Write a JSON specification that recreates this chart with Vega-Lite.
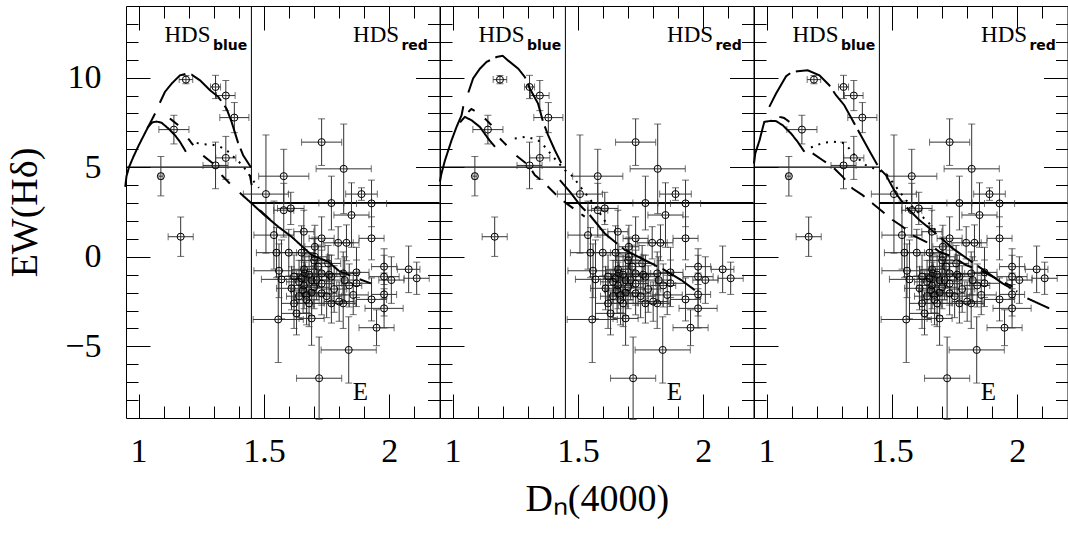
{
  "$schema": "https://vega.github.io/schema/vega-lite/v6.json",
  "background": "white",
  "padding": {"left": 6, "top": 5, "right": 1, "bottom": 5},
  "spacing": 0,
  "bounds": "flush",
  "datasets": {
    "pts": [
      {"x": 1.189, "y": 9.89, "xe": 0.027, "ye": 0.23},
      {"x": 1.307, "y": 9.48, "xe": 0.02, "ye": 0.65},
      {"x": 1.348, "y": 9.0, "xe": 0.037, "ye": 0.84},
      {"x": 1.382, "y": 7.77, "xe": 0.058, "ye": 0.84},
      {"x": 1.141, "y": 7.1, "xe": 0.06, "ye": 0.8},
      {"x": 1.089, "y": 4.5, "xe": 0.008, "ye": 1.1},
      {"x": 1.307, "y": 5.1, "xe": 0.05, "ye": 1.3},
      {"x": 1.348, "y": 5.52, "xe": 0.04, "ye": 1.2},
      {"x": 1.168, "y": 1.12, "xe": 0.05, "ye": 1.1},
      {"x": 1.73, "y": 6.4, "xe": 0.08, "ye": 1.3},
      {"x": 1.818, "y": 4.91, "xe": 0.11, "ye": 2.5},
      {"x": 1.579, "y": 4.5, "xe": 0.1, "ye": 1.5},
      {"x": 1.508, "y": 3.5, "xe": 0.09, "ye": 3.3},
      {"x": 1.889, "y": 3.5, "xe": 0.063, "ye": 0.35},
      {"x": 1.929, "y": 2.98, "xe": 0.06, "ye": 1.3},
      {"x": 1.769, "y": 3.0, "xe": 0.05, "ye": 1.5},
      {"x": 1.849, "y": 2.33, "xe": 0.07, "ye": 1.8},
      {"x": 1.579, "y": 2.6, "xe": 0.04, "ye": 1.5},
      {"x": 1.607, "y": 2.7, "xe": 0.053, "ye": 0.9},
      {"x": 1.54, "y": 1.21, "xe": 0.08, "ye": 1.9},
      {"x": 1.659, "y": 1.4, "xe": 0.04, "ye": 1.2},
      {"x": 1.73, "y": 1.03, "xe": 0.05, "ye": 1.2},
      {"x": 1.796, "y": 0.78, "xe": 0.06, "ye": 0.9},
      {"x": 1.829, "y": 0.78, "xe": 0.05, "ye": 1.0},
      {"x": 1.929, "y": 1.03, "xe": 0.05, "ye": 1.2},
      {"x": 1.55, "y": 0.23, "xe": 0.08, "ye": 1.4},
      {"x": 1.599, "y": 0.23, "xe": 0.05, "ye": 1.3},
      {"x": 1.65, "y": 0.23, "xe": 0.05, "ye": 1.5},
      {"x": 1.703, "y": 0.56, "xe": 0.04, "ye": 1.2},
      {"x": 1.703, "y": 0.0, "xe": 0.05, "ye": 1.1},
      {"x": 1.56, "y": -0.78, "xe": 0.1, "ye": 1.5},
      {"x": 1.57, "y": -1.26, "xe": 0.08, "ye": 2.2},
      {"x": 1.61, "y": -1.76, "xe": 0.06, "ye": 1.2},
      {"x": 1.663, "y": -0.93, "xe": 0.05, "ye": 1.1},
      {"x": 1.69, "y": -1.3, "xe": 0.06, "ye": 1.5},
      {"x": 1.656, "y": -1.86, "xe": 0.05, "ye": 1.3},
      {"x": 1.67, "y": -2.13, "xe": 0.05, "ye": 1.0},
      {"x": 1.716, "y": -0.55, "xe": 0.05, "ye": 1.2},
      {"x": 1.756, "y": -0.37, "xe": 0.05, "ye": 1.0},
      {"x": 1.73, "y": -0.93, "xe": 0.06, "ye": 1.3},
      {"x": 1.769, "y": -1.11, "xe": 0.05, "ye": 1.2},
      {"x": 1.816, "y": -0.93, "xe": 0.06, "ye": 1.2},
      {"x": 1.869, "y": -0.87, "xe": 0.05, "ye": 1.4},
      {"x": 1.822, "y": -1.3, "xe": 0.05, "ye": 1.3},
      {"x": 1.869, "y": -1.48, "xe": 0.06, "ye": 1.3},
      {"x": 1.73, "y": -2.04, "xe": 0.06, "ye": 1.2},
      {"x": 1.769, "y": -2.6, "xe": 0.07, "ye": 1.1},
      {"x": 1.816, "y": -2.6, "xe": 0.05, "ye": 1.4},
      {"x": 1.856, "y": -2.13, "xe": 0.06, "ye": 1.1},
      {"x": 1.929, "y": -2.38, "xe": 0.06, "ye": 1.2},
      {"x": 1.979, "y": -0.55, "xe": 0.05, "ye": 1.0},
      {"x": 1.979, "y": -1.11, "xe": 0.06, "ye": 1.2},
      {"x": 2.008, "y": -1.3, "xe": 0.05, "ye": 1.3},
      {"x": 2.077, "y": -0.7, "xe": 0.045, "ye": 1.3},
      {"x": 2.109, "y": -1.2, "xe": 0.05, "ye": 0.9},
      {"x": 1.979, "y": -2.1, "xe": 0.05, "ye": 1.2},
      {"x": 1.979, "y": -2.88, "xe": 0.076, "ye": 1.1},
      {"x": 1.63, "y": -3.16, "xe": 0.06, "ye": 1.2},
      {"x": 1.557, "y": -3.5, "xe": 0.1, "ye": 2.4},
      {"x": 1.69, "y": -3.44, "xe": 0.05, "ye": 1.5},
      {"x": 1.838, "y": -5.2, "xe": 0.11, "ye": 1.85},
      {"x": 1.72, "y": -6.78, "xe": 0.09, "ye": 2.3},
      {"x": 1.949, "y": -3.96, "xe": 0.07, "ye": 1.0},
      {"x": 1.64, "y": -1.4, "xe": 0.05, "ye": 1.2},
      {"x": 1.66, "y": -1.6, "xe": 0.06, "ye": 1.3},
      {"x": 1.68, "y": -1.0, "xe": 0.05, "ye": 1.1},
      {"x": 1.67, "y": -2.4, "xe": 0.05, "ye": 1.4},
      {"x": 1.7, "y": -1.7, "xe": 0.06, "ye": 1.2},
      {"x": 1.65, "y": -1.2, "xe": 0.05, "ye": 1.0},
      {"x": 1.69, "y": -2.0, "xe": 0.05, "ye": 1.3},
      {"x": 1.62, "y": -1.1, "xe": 0.06, "ye": 1.2},
      {"x": 1.71, "y": -1.3, "xe": 0.05, "ye": 1.1},
      {"x": 1.64, "y": -2.2, "xe": 0.05, "ye": 1.2},
      {"x": 1.68, "y": -2.6, "xe": 0.06, "ye": 1.3},
      {"x": 1.73, "y": -1.5, "xe": 0.05, "ye": 1.2},
      {"x": 1.66, "y": -0.7, "xe": 0.05, "ye": 1.1},
      {"x": 1.75, "y": -2.2, "xe": 0.06, "ye": 1.2},
      {"x": 1.78, "y": -1.8, "xe": 0.05, "ye": 1.3},
      {"x": 1.8, "y": -2.5, "xe": 0.06, "ye": 1.1},
      {"x": 1.84, "y": -1.6, "xe": 0.05, "ye": 1.2},
      {"x": 1.62, "y": -2.6, "xe": 0.05, "ye": 1.4},
      {"x": 1.7, "y": -0.2, "xe": 0.05, "ye": 1.2},
      {"x": 1.76, "y": -1.0, "xe": 0.06, "ye": 1.1}
    ],
    "cuts": [
      {"side": "blue", "x": 0.95, "x2": 1.45, "y": 5},
      {"side": "red", "x": 1.45, "x2": 2.2, "y": 3}
    ],
    "split": [{"x": 1.45}],
    "hds": [
      {"t": "HDS", "sub": "blue", "x": 1.287, "y": 11.99, "xs": 1.297, "ys": 11.57},
      {"t": "HDS", "sub": "red", "x": 2.039, "y": 11.99, "xs": 2.048, "ys": 11.57}
    ],
    "etag": [{"t": "E", "x": 1.885, "y": -7.99}],
    "curves": [
      {"p": 1, "s": "1a", "st": "long", "x": 1.085, "y": 8.6},
      {"p": 1, "s": "1a", "st": "long", "x": 1.105, "y": 9.2},
      {"p": 1, "s": "1a", "st": "long", "x": 1.132, "y": 9.67},
      {"p": 1, "s": "1a", "st": "long", "x": 1.165, "y": 10.13},
      {"p": 1, "s": "1a", "st": "long", "x": 1.19, "y": 10.22},
      {"p": 1, "s": "1a", "st": "long", "x": 1.212, "y": 10.17},
      {"p": 1, "s": "1a", "st": "long", "x": 1.245, "y": 9.85},
      {"p": 1, "s": "1a", "st": "long", "x": 1.285, "y": 9.3},
      {"p": 1, "s": "1a", "st": "long", "x": 1.318, "y": 8.93},
      {"p": 1, "s": "1a", "st": "long", "x": 1.351, "y": 8.27},
      {"p": 1, "s": "1a", "st": "long", "x": 1.371, "y": 7.53},
      {"p": 1, "s": "1a", "st": "long", "x": 1.397, "y": 6.36},
      {"p": 1, "s": "1a", "st": "long", "x": 1.417, "y": 5.67},
      {"p": 1, "s": "1a", "st": "long", "x": 1.448, "y": 5.0},
      {"p": 1, "s": "1b", "st": "solid", "x": 0.947, "y": 3.9},
      {"p": 1, "s": "1b", "st": "solid", "x": 0.952, "y": 4.5},
      {"p": 1, "s": "1b", "st": "solid", "x": 0.962, "y": 5.0},
      {"p": 1, "s": "1b", "st": "solid", "x": 0.98, "y": 5.6},
      {"p": 1, "s": "1b", "st": "solid", "x": 1.0, "y": 6.2},
      {"p": 1, "s": "1b", "st": "solid", "x": 1.02, "y": 6.75},
      {"p": 1, "s": "1b", "st": "solid", "x": 1.04, "y": 7.3},
      {"p": 1, "s": "1b", "st": "solid", "x": 1.055, "y": 7.7},
      {"p": 1, "s": "1b", "st": "solid", "x": 1.066, "y": 8.0},
      {"p": 1, "s": "1c", "st": "solid", "x": 1.035, "y": 7.2},
      {"p": 1, "s": "1c", "st": "solid", "x": 1.055, "y": 7.5},
      {"p": 1, "s": "1c", "st": "solid", "x": 1.072, "y": 7.55},
      {"p": 1, "s": "1c", "st": "solid", "x": 1.092, "y": 7.48},
      {"p": 1, "s": "1c", "st": "solid", "x": 1.119, "y": 7.16},
      {"p": 1, "s": "1c", "st": "solid", "x": 1.145, "y": 6.79},
      {"p": 1, "s": "1c", "st": "solid", "x": 1.165, "y": 6.42},
      {"p": 1, "s": "1c", "st": "solid", "x": 1.189, "y": 5.86},
      {"p": 1, "s": "1d", "st": "solid", "x": 1.125, "y": 7.72},
      {"p": 1, "s": "1d", "st": "solid", "x": 1.158, "y": 7.35},
      {"p": 1, "s": "1e", "st": "solid", "x": 1.198, "y": 6.6},
      {"p": 1, "s": "1e", "st": "solid", "x": 1.218, "y": 6.23},
      {"p": 1, "s": "1f", "st": "dot", "x": 1.232, "y": 6.35},
      {"p": 1, "s": "1f", "st": "dot", "x": 1.26, "y": 6.28},
      {"p": 1, "s": "1f", "st": "dot", "x": 1.295, "y": 6.25},
      {"p": 1, "s": "1f", "st": "dot", "x": 1.325, "y": 6.15},
      {"p": 1, "s": "1f", "st": "dot", "x": 1.355, "y": 5.9},
      {"p": 1, "s": "1f", "st": "dot", "x": 1.385, "y": 5.5},
      {"p": 1, "s": "1f", "st": "dot", "x": 1.415, "y": 5.1},
      {"p": 1, "s": "1f", "st": "dot", "x": 1.44, "y": 4.6},
      {"p": 1, "s": "1f", "st": "dot", "x": 1.46, "y": 4.2},
      {"p": 1, "s": "1f", "st": "dot", "x": 1.48, "y": 3.85},
      {"p": 1, "s": "1g", "st": "solid", "x": 1.258, "y": 5.64},
      {"p": 1, "s": "1g", "st": "solid", "x": 1.298, "y": 5.2},
      {"p": 1, "s": "1h", "st": "solid", "x": 1.331, "y": 4.56},
      {"p": 1, "s": "1h", "st": "solid", "x": 1.364, "y": 4.09},
      {"p": 1, "s": "1i", "st": "solid", "x": 1.404, "y": 3.57},
      {"p": 1, "s": "1i", "st": "solid", "x": 1.451, "y": 2.98},
      {"p": 1, "s": "1i", "st": "solid", "x": 1.5, "y": 2.35},
      {"p": 1, "s": "1i", "st": "solid", "x": 1.557, "y": 1.68},
      {"p": 1, "s": "1i", "st": "solid", "x": 1.61, "y": 1.12},
      {"p": 1, "s": "1i", "st": "solid", "x": 1.69, "y": 0.1},
      {"p": 1, "s": "1i", "st": "solid", "x": 1.756, "y": -0.27},
      {"p": 1, "s": "1i", "st": "solid", "x": 1.8, "y": -0.8},
      {"p": 1, "s": "1j", "st": "solid", "x": 1.484, "y": 2.6},
      {"p": 1, "s": "1j", "st": "solid", "x": 1.524, "y": 2.08},
      {"p": 1, "s": "1k", "st": "dash", "x": 1.8, "y": -0.8},
      {"p": 1, "s": "1k", "st": "dash", "x": 1.87, "y": -1.2},
      {"p": 1, "s": "1k", "st": "dash", "x": 1.95, "y": -1.6},
      {"p": 1, "s": "1l", "st": "solid", "x": 1.444, "y": 4.56},
      {"p": 1, "s": "1l", "st": "solid", "x": 1.451, "y": 4.0},
      {"p": 2, "s": "2a", "st": "long", "x": 1.063, "y": 9.17},
      {"p": 2, "s": "2a", "st": "long", "x": 1.082, "y": 9.95},
      {"p": 2, "s": "2a", "st": "long", "x": 1.109, "y": 10.5},
      {"p": 2, "s": "2a", "st": "long", "x": 1.136, "y": 10.88},
      {"p": 2, "s": "2a", "st": "long", "x": 1.175, "y": 11.15},
      {"p": 2, "s": "2a", "st": "long", "x": 1.2, "y": 11.22},
      {"p": 2, "s": "2a", "st": "long", "x": 1.222, "y": 10.95},
      {"p": 2, "s": "2a", "st": "long", "x": 1.262, "y": 10.5},
      {"p": 2, "s": "2a", "st": "long", "x": 1.288, "y": 10.04},
      {"p": 2, "s": "2a", "st": "long", "x": 1.308, "y": 9.39},
      {"p": 2, "s": "2a", "st": "long", "x": 1.341, "y": 8.55},
      {"p": 2, "s": "2a", "st": "long", "x": 1.361, "y": 7.53},
      {"p": 2, "s": "2a", "st": "long", "x": 1.381, "y": 6.79},
      {"p": 2, "s": "2a", "st": "long", "x": 1.408, "y": 5.95},
      {"p": 2, "s": "2a", "st": "long", "x": 1.441, "y": 5.02},
      {"p": 2, "s": "2b", "st": "solid", "x": 0.95, "y": 4.2},
      {"p": 2, "s": "2b", "st": "solid", "x": 0.955, "y": 4.6},
      {"p": 2, "s": "2b", "st": "solid", "x": 0.97, "y": 5.39},
      {"p": 2, "s": "2b", "st": "solid", "x": 0.996, "y": 6.5},
      {"p": 2, "s": "2b", "st": "solid", "x": 1.016, "y": 7.25},
      {"p": 2, "s": "2b", "st": "solid", "x": 1.036, "y": 7.9},
      {"p": 2, "s": "2b", "st": "solid", "x": 1.043, "y": 8.4},
      {"p": 2, "s": "2c", "st": "solid", "x": 1.03, "y": 7.5},
      {"p": 2, "s": "2c", "st": "solid", "x": 1.049, "y": 7.81},
      {"p": 2, "s": "2c", "st": "solid", "x": 1.076, "y": 7.62},
      {"p": 2, "s": "2c", "st": "solid", "x": 1.109, "y": 7.25},
      {"p": 2, "s": "2c", "st": "solid", "x": 1.142, "y": 6.6},
      {"p": 2, "s": "2c", "st": "solid", "x": 1.169, "y": 6.14},
      {"p": 2, "s": "2d", "st": "solid", "x": 1.063, "y": 8.09},
      {"p": 2, "s": "2d", "st": "solid", "x": 1.075, "y": 8.25},
      {"p": 2, "s": "2d", "st": "solid", "x": 1.088, "y": 8.15},
      {"p": 2, "s": "2e", "st": "solid", "x": 1.129, "y": 7.72},
      {"p": 2, "s": "2e", "st": "solid", "x": 1.155, "y": 7.35},
      {"p": 2, "s": "2f", "st": "solid", "x": 1.189, "y": 6.6},
      {"p": 2, "s": "2f", "st": "solid", "x": 1.215, "y": 6.23},
      {"p": 2, "s": "2g", "st": "dot", "x": 1.248, "y": 6.6},
      {"p": 2, "s": "2g", "st": "dot", "x": 1.295, "y": 6.7},
      {"p": 2, "s": "2g", "st": "dot", "x": 1.341, "y": 6.51},
      {"p": 2, "s": "2g", "st": "dot", "x": 1.368, "y": 6.14},
      {"p": 2, "s": "2g", "st": "dot", "x": 1.401, "y": 5.58},
      {"p": 2, "s": "2g", "st": "dot", "x": 1.448, "y": 4.84},
      {"p": 2, "s": "2g", "st": "dot", "x": 1.481, "y": 4.46},
      {"p": 2, "s": "2g", "st": "dot", "x": 1.51, "y": 3.9},
      {"p": 2, "s": "2g", "st": "dot", "x": 1.541, "y": 3.35},
      {"p": 2, "s": "2g", "st": "dot", "x": 1.58, "y": 2.6},
      {"p": 2, "s": "2g", "st": "dot", "x": 1.614, "y": 1.86},
      {"p": 2, "s": "2h", "st": "dash", "x": 1.255, "y": 5.64},
      {"p": 2, "s": "2h", "st": "dash", "x": 1.302, "y": 5.12},
      {"p": 2, "s": "2h", "st": "dash", "x": 1.328, "y": 4.56},
      {"p": 2, "s": "2h", "st": "dash", "x": 1.368, "y": 4.09},
      {"p": 2, "s": "2h", "st": "dash", "x": 1.408, "y": 3.53},
      {"p": 2, "s": "2h", "st": "dash", "x": 1.454, "y": 2.98},
      {"p": 2, "s": "2h", "st": "dash", "x": 1.527, "y": 2.24},
      {"p": 2, "s": "2i", "st": "long", "x": 1.428, "y": 4.28},
      {"p": 2, "s": "2i", "st": "long", "x": 1.47, "y": 3.6},
      {"p": 2, "s": "2i", "st": "long", "x": 1.514, "y": 2.79},
      {"p": 2, "s": "2i", "st": "long", "x": 1.547, "y": 2.33},
      {"p": 2, "s": "2i", "st": "long", "x": 1.607, "y": 1.3},
      {"p": 2, "s": "2i", "st": "long", "x": 1.687, "y": 0.38},
      {"p": 2, "s": "2i", "st": "long", "x": 1.766, "y": -0.18},
      {"p": 2, "s": "2i", "st": "long", "x": 1.846, "y": -0.74},
      {"p": 2, "s": "2i", "st": "long", "x": 1.912, "y": -1.3},
      {"p": 2, "s": "2i", "st": "long", "x": 1.966, "y": -1.86},
      {"p": 3, "s": "3a", "st": "long", "x": 1.011, "y": 8.37},
      {"p": 3, "s": "3a", "st": "long", "x": 1.038, "y": 9.11},
      {"p": 3, "s": "3a", "st": "long", "x": 1.078, "y": 10.08},
      {"p": 3, "s": "3a", "st": "long", "x": 1.1, "y": 10.3},
      {"p": 3, "s": "3a", "st": "long", "x": 1.124, "y": 10.36},
      {"p": 3, "s": "3a", "st": "long", "x": 1.164, "y": 10.41},
      {"p": 3, "s": "3a", "st": "long", "x": 1.211, "y": 10.13},
      {"p": 3, "s": "3a", "st": "long", "x": 1.25, "y": 9.58},
      {"p": 3, "s": "3a", "st": "long", "x": 1.277, "y": 9.02},
      {"p": 3, "s": "3a", "st": "long", "x": 1.31, "y": 8.46},
      {"p": 3, "s": "3a", "st": "long", "x": 1.35, "y": 7.44},
      {"p": 3, "s": "3a", "st": "long", "x": 1.383, "y": 6.6},
      {"p": 3, "s": "3a", "st": "long", "x": 1.416, "y": 5.77},
      {"p": 3, "s": "3a", "st": "long", "x": 1.45, "y": 4.93},
      {"p": 3, "s": "3a", "st": "long", "x": 1.476, "y": 4.56},
      {"p": 3, "s": "3a", "st": "long", "x": 1.516, "y": 3.53},
      {"p": 3, "s": "3a", "st": "long", "x": 1.556, "y": 2.79},
      {"p": 3, "s": "3a", "st": "long", "x": 1.609, "y": 2.05},
      {"p": 3, "s": "3a", "st": "long", "x": 1.675, "y": 1.3},
      {"p": 3, "s": "3a", "st": "long", "x": 1.742, "y": 0.47},
      {"p": 3, "s": "3a", "st": "long", "x": 1.808, "y": -0.18},
      {"p": 3, "s": "3a", "st": "long", "x": 1.875, "y": -0.83},
      {"p": 3, "s": "3a", "st": "long", "x": 1.941, "y": -1.48},
      {"p": 3, "s": "3a", "st": "long", "x": 2.0, "y": -1.95},
      {"p": 3, "s": "3b", "st": "solid", "x": 2.04, "y": -2.32},
      {"p": 3, "s": "3b", "st": "solid", "x": 2.127, "y": -2.88},
      {"p": 3, "s": "3c", "st": "solid", "x": 0.95, "y": 5.2},
      {"p": 3, "s": "3c", "st": "solid", "x": 0.955, "y": 5.77},
      {"p": 3, "s": "3c", "st": "solid", "x": 0.972, "y": 6.5},
      {"p": 3, "s": "3c", "st": "solid", "x": 0.991, "y": 7.53},
      {"p": 3, "s": "3c", "st": "solid", "x": 1.018, "y": 7.59},
      {"p": 3, "s": "3c", "st": "solid", "x": 1.038, "y": 7.57},
      {"p": 3, "s": "3c", "st": "solid", "x": 1.064, "y": 7.35},
      {"p": 3, "s": "3c", "st": "solid", "x": 1.098, "y": 6.88},
      {"p": 3, "s": "3c", "st": "solid", "x": 1.124, "y": 6.42},
      {"p": 3, "s": "3c", "st": "solid", "x": 1.151, "y": 5.86},
      {"p": 3, "s": "3d", "st": "solid", "x": 1.051, "y": 7.81},
      {"p": 3, "s": "3d", "st": "solid", "x": 1.07, "y": 7.75},
      {"p": 3, "s": "3d", "st": "solid", "x": 1.091, "y": 7.53},
      {"p": 3, "s": "3e", "st": "dot", "x": 1.177, "y": 6.1},
      {"p": 3, "s": "3e", "st": "dot", "x": 1.224, "y": 6.36},
      {"p": 3, "s": "3e", "st": "dot", "x": 1.264, "y": 6.43},
      {"p": 3, "s": "3e", "st": "dot", "x": 1.304, "y": 6.36},
      {"p": 3, "s": "3e", "st": "dot", "x": 1.33, "y": 6.04},
      {"p": 3, "s": "3e", "st": "dot", "x": 1.357, "y": 5.58},
      {"p": 3, "s": "3e", "st": "dot", "x": 1.396, "y": 5.12},
      {"p": 3, "s": "3e", "st": "dot", "x": 1.45, "y": 4.8},
      {"p": 3, "s": "3e", "st": "dot", "x": 1.476, "y": 4.65},
      {"p": 3, "s": "3e", "st": "dot", "x": 1.516, "y": 3.91},
      {"p": 3, "s": "3e", "st": "dot", "x": 1.556, "y": 3.16},
      {"p": 3, "s": "3e", "st": "dot", "x": 1.596, "y": 2.6},
      {"p": 3, "s": "3e", "st": "dot", "x": 1.649, "y": 1.86},
      {"p": 3, "s": "3e", "st": "dot", "x": 1.68, "y": 1.4},
      {"p": 3, "s": "3f", "st": "dash2", "x": 1.184, "y": 5.77},
      {"p": 3, "s": "3f", "st": "dash2", "x": 1.224, "y": 5.39},
      {"p": 3, "s": "3f", "st": "dash2", "x": 1.264, "y": 5.02},
      {"p": 3, "s": "3f", "st": "dash2", "x": 1.304, "y": 4.46},
      {"p": 3, "s": "3f", "st": "dash2", "x": 1.343, "y": 3.81},
      {"p": 3, "s": "3f", "st": "dash2", "x": 1.383, "y": 3.44},
      {"p": 3, "s": "3f", "st": "dash2", "x": 1.423, "y": 2.98},
      {"p": 3, "s": "3f", "st": "dash2", "x": 1.463, "y": 2.51},
      {"p": 3, "s": "3f", "st": "dash2", "x": 1.503, "y": 2.05},
      {"p": 3, "s": "3f", "st": "dash2", "x": 1.543, "y": 1.68},
      {"p": 3, "s": "3f", "st": "dash2", "x": 1.582, "y": 1.21},
      {"p": 3, "s": "3f", "st": "dash2", "x": 1.636, "y": 0.84},
      {"p": 3, "s": "3f", "st": "dash2", "x": 1.689, "y": 0.28},
      {"p": 3, "s": "3f", "st": "dash2", "x": 1.742, "y": 0.0},
      {"p": 3, "s": "3f", "st": "dash2", "x": 1.795, "y": -0.46},
      {"p": 3, "s": "3f", "st": "dash2", "x": 1.848, "y": -0.74},
      {"p": 3, "s": "3f", "st": "dash2", "x": 1.901, "y": -1.11},
      {"p": 3, "s": "3f", "st": "dash2", "x": 1.981, "y": -1.67}
    ]
  },
  "hconcat": [
    {
      "width": 313.5,
      "height": 412,
      "resolve": {"axis": {"x": "independent", "y": "independent"}},
      "layer": [
        {
          "data": {"name": "split"},
          "mark": {"type": "rule", "color": "black", "strokeWidth": 1},
          "encoding": {
            "x": {"field": "x", "type": "quantitative", "scale": {"domain": [0.95, 2.2], "nice": false, "zero": false},
              "axis": {"orient": "bottom", "values": [1, 1.1, 1.2, 1.3, 1.4, 1.5, 1.6, 1.7, 1.8, 1.9, 2, 2.1], "tickSize": -12, "labels": false, "title": null}}
          }
        },
        {
          "data": {"name": "cuts"},
          "mark": {"type": "rule", "color": "black"},
          "encoding": {
            "x": {"field": "x", "type": "quantitative", "scale": {"domain": [0.95, 2.2], "nice": false, "zero": false},
              "axis": {"orient": "top", "values": [1, 1.1, 1.2, 1.3, 1.4, 1.5, 1.6, 1.7, 1.8, 1.9, 2, 2.1], "tickSize": -12, "labels": false, "title": null}},
            "x2": {"field": "x2"},
            "y": {"field": "y", "type": "quantitative", "scale": {"domain": [-9, 14], "nice": false, "zero": false},
              "axis": {"orient": "left", "values": [-8, -7, -6, -5, -4, -3, -2, -1, 0, 1, 2, 3, 4, 5, 6, 7, 8, 9, 10, 11, 12, 13], "tickSize": -12, "labels": false, "title": null}},
            "strokeWidth": {"field": "side", "type": "nominal", "scale": {"domain": ["blue", "red"], "range": [1.2, 2]}, "legend": null}
          }
        },
        {
          "data": {"name": "pts"},
          "mark": {"type": "errorbar", "ticks": {"size": 7}, "color": "#333", "thickness": 1},
          "encoding": {
            "x": {"field": "x", "type": "quantitative", "scale": {"domain": [0.95, 2.2], "nice": false, "zero": false},
              "axis": {"orient": "bottom", "values": [1, 1.5, 2], "tickSize": -24, "labels": false, "title": null}},
            "xError": {"field": "xe"},
            "y": {"field": "y", "type": "quantitative", "scale": {"domain": [-9, 14], "nice": false, "zero": false},
              "axis": {"orient": "right", "values": [-8, -7, -6, -5, -4, -3, -2, -1, 0, 1, 2, 3, 4, 5, 6, 7, 8, 9, 10, 11, 12, 13], "tickSize": -12, "labels": false, "title": null}}
          }
        },
        {
          "data": {"name": "pts"},
          "mark": {"type": "errorbar", "ticks": {"size": 7}, "color": "#333", "thickness": 1},
          "encoding": {
            "y": {"field": "y", "type": "quantitative", "scale": {"domain": [-9, 14], "nice": false, "zero": false},
              "axis": {"orient": "left", "values": [-5, 0, 5, 10], "tickSize": -24, "labels": false, "title": null}},
            "yError": {"field": "ye"},
            "x": {"field": "x", "type": "quantitative", "scale": {"domain": [0.95, 2.2], "nice": false, "zero": false},
              "axis": {"orient": "top", "values": [1, 1.5, 2], "tickSize": -24, "labels": false, "title": null}}
          }
        },
        {
          "data": {"name": "pts"},
          "mark": {"type": "point", "shape": "circle", "filled": false, "size": 50, "color": "black", "strokeWidth": 1, "opacity": 1},
          "encoding": {
            "x": {"field": "x", "type": "quantitative", "scale": {"domain": [0.95, 2.2], "nice": false, "zero": false},
              "axis": {"orient": "bottom", "values": [1, 1.5, 2], "ticks": false, "tickSize": 0, "labelPadding": 16, "format": "~g", "title": null}},
            "y": {"field": "y", "type": "quantitative", "scale": {"domain": [-9, 14], "nice": false, "zero": false},
              "axis": {"orient": "right", "values": [-5, 0, 5, 10], "tickSize": -24, "labels": false, "title": null}}
          }
        },
        {
          "data": {"name": "curves"},
          "transform": [{"filter": "datum.p == 1"}],
          "mark": {"type": "line", "color": "black", "strokeWidth": 2},
          "encoding": {
            "x": {"field": "x", "type": "quantitative", "scale": {"domain": [0.95, 2.2], "nice": false, "zero": false}, "axis": null},
            "y": {"field": "y", "type": "quantitative", "scale": {"domain": [-9, 14], "nice": false, "zero": false},
              "axis": {"orient": "left", "values": [-5, 0, 5, 10], "ticks": false, "tickSize": 0, "labelPadding": 25, "format": "d", "title": "EW(Hδ)", "titleFontSize": 38, "titlePadding": 20}},
            "detail": {"field": "s", "type": "nominal"},
            "strokeDash": {"field": "st", "type": "nominal", "scale": {"domain": ["solid", "long", "dash", "dash2", "dot"], "range": [[1, 0], [40, 6], [12, 10], [16, 10], [2, 6]]}, "legend": null}
          }
        },
        {
          "data": {"name": "hds"},
          "mark": {"type": "text", "align": "right", "baseline": "alphabetic", "font": "Liberation Serif", "fontSize": 23, "color": "black"},
          "encoding": {
            "x": {"field": "x", "type": "quantitative", "scale": {"domain": [0.95, 2.2], "nice": false, "zero": false}, "axis": null},
            "y": {"field": "y", "type": "quantitative", "scale": {"domain": [-9, 14], "nice": false, "zero": false}, "axis": null},
            "text": {"field": "t"}
          }
        },
        {
          "data": {"name": "hds"},
          "mark": {"type": "text", "align": "left", "baseline": "alphabetic", "font": "DejaVu Sans", "fontWeight": "bold", "fontSize": 14, "color": "black"},
          "encoding": {
            "x": {"field": "xs", "type": "quantitative", "scale": {"domain": [0.95, 2.2], "nice": false, "zero": false}, "axis": null},
            "y": {"field": "ys", "type": "quantitative", "scale": {"domain": [-9, 14], "nice": false, "zero": false}, "axis": null},
            "text": {"field": "sub"}
          }
        },
        {
          "data": {"name": "etag"},
          "mark": {"type": "text", "align": "center", "baseline": "alphabetic", "font": "Liberation Serif", "fontSize": 25, "color": "black"},
          "encoding": {
            "x": {"field": "x", "type": "quantitative", "scale": {"domain": [0.95, 2.2], "nice": false, "zero": false}, "axis": null},
            "y": {"field": "y", "type": "quantitative", "scale": {"domain": [-9, 14], "nice": false, "zero": false}, "axis": null},
            "text": {"field": "t"}
          }
        }
      ]
    },
    {
      "width": 313.5,
      "height": 412,
      "resolve": {"axis": {"x": "independent", "y": "independent"}},
      "layer": [
        {
          "data": {"name": "split"},
          "mark": {"type": "rule", "color": "black", "strokeWidth": 1},
          "encoding": {
            "x": {"field": "x", "type": "quantitative", "scale": {"domain": [0.95, 2.2], "nice": false, "zero": false},
              "axis": {"orient": "bottom", "values": [1, 1.1, 1.2, 1.3, 1.4, 1.5, 1.6, 1.7, 1.8, 1.9, 2, 2.1], "tickSize": -12, "labels": false, "title": null}}
          }
        },
        {
          "data": {"name": "cuts"},
          "mark": {"type": "rule", "color": "black"},
          "encoding": {
            "x": {"field": "x", "type": "quantitative", "scale": {"domain": [0.95, 2.2], "nice": false, "zero": false},
              "axis": {"orient": "top", "values": [1, 1.1, 1.2, 1.3, 1.4, 1.5, 1.6, 1.7, 1.8, 1.9, 2, 2.1], "tickSize": -12, "labels": false, "title": null}},
            "x2": {"field": "x2"},
            "y": {"field": "y", "type": "quantitative", "scale": {"domain": [-9, 14], "nice": false, "zero": false},
              "axis": {"orient": "left", "values": [-8, -7, -6, -5, -4, -3, -2, -1, 0, 1, 2, 3, 4, 5, 6, 7, 8, 9, 10, 11, 12, 13], "tickSize": -12, "labels": false, "title": null}},
            "strokeWidth": {"field": "side", "type": "nominal", "scale": {"domain": ["blue", "red"], "range": [1.2, 2]}, "legend": null}
          }
        },
        {
          "data": {"name": "pts"},
          "mark": {"type": "errorbar", "ticks": {"size": 7}, "color": "#333", "thickness": 1},
          "encoding": {
            "x": {"field": "x", "type": "quantitative", "scale": {"domain": [0.95, 2.2], "nice": false, "zero": false},
              "axis": {"orient": "bottom", "values": [1, 1.5, 2], "tickSize": -24, "labels": false, "title": null}},
            "xError": {"field": "xe"},
            "y": {"field": "y", "type": "quantitative", "scale": {"domain": [-9, 14], "nice": false, "zero": false},
              "axis": {"orient": "right", "values": [-8, -7, -6, -5, -4, -3, -2, -1, 0, 1, 2, 3, 4, 5, 6, 7, 8, 9, 10, 11, 12, 13], "tickSize": -12, "labels": false, "title": null}}
          }
        },
        {
          "data": {"name": "pts"},
          "mark": {"type": "errorbar", "ticks": {"size": 7}, "color": "#333", "thickness": 1},
          "encoding": {
            "y": {"field": "y", "type": "quantitative", "scale": {"domain": [-9, 14], "nice": false, "zero": false},
              "axis": {"orient": "left", "values": [-5, 0, 5, 10], "tickSize": -24, "labels": false, "title": null}},
            "yError": {"field": "ye"},
            "x": {"field": "x", "type": "quantitative", "scale": {"domain": [0.95, 2.2], "nice": false, "zero": false},
              "axis": {"orient": "top", "values": [1, 1.5, 2], "tickSize": -24, "labels": false, "title": null}}
          }
        },
        {
          "data": {"name": "pts"},
          "mark": {"type": "point", "shape": "circle", "filled": false, "size": 50, "color": "black", "strokeWidth": 1, "opacity": 1},
          "encoding": {
            "x": {"field": "x", "type": "quantitative", "scale": {"domain": [0.95, 2.2], "nice": false, "zero": false},
              "axis": {"orient": "bottom", "values": [1, 1.5, 2], "ticks": false, "tickSize": 0, "labelPadding": 16, "format": "~g", "title": "Dₙ(4000)", "titleFontSize": 38, "titlePadding": 12}},
            "y": {"field": "y", "type": "quantitative", "scale": {"domain": [-9, 14], "nice": false, "zero": false},
              "axis": {"orient": "right", "values": [-5, 0, 5, 10], "tickSize": -24, "labels": false, "title": null}}
          }
        },
        {
          "data": {"name": "curves"},
          "transform": [{"filter": "datum.p == 2"}],
          "mark": {"type": "line", "color": "black", "strokeWidth": 2},
          "encoding": {
            "x": {"field": "x", "type": "quantitative", "scale": {"domain": [0.95, 2.2], "nice": false, "zero": false}, "axis": null},
            "y": {"field": "y", "type": "quantitative", "scale": {"domain": [-9, 14], "nice": false, "zero": false}, "axis": null},
            "detail": {"field": "s", "type": "nominal"},
            "strokeDash": {"field": "st", "type": "nominal", "scale": {"domain": ["solid", "long", "dash", "dash2", "dot"], "range": [[1, 0], [40, 6], [12, 10], [16, 10], [2, 6]]}, "legend": null}
          }
        },
        {
          "data": {"name": "hds"},
          "mark": {"type": "text", "align": "right", "baseline": "alphabetic", "font": "Liberation Serif", "fontSize": 23, "color": "black"},
          "encoding": {
            "x": {"field": "x", "type": "quantitative", "scale": {"domain": [0.95, 2.2], "nice": false, "zero": false}, "axis": null},
            "y": {"field": "y", "type": "quantitative", "scale": {"domain": [-9, 14], "nice": false, "zero": false}, "axis": null},
            "text": {"field": "t"}
          }
        },
        {
          "data": {"name": "hds"},
          "mark": {"type": "text", "align": "left", "baseline": "alphabetic", "font": "DejaVu Sans", "fontWeight": "bold", "fontSize": 14, "color": "black"},
          "encoding": {
            "x": {"field": "xs", "type": "quantitative", "scale": {"domain": [0.95, 2.2], "nice": false, "zero": false}, "axis": null},
            "y": {"field": "ys", "type": "quantitative", "scale": {"domain": [-9, 14], "nice": false, "zero": false}, "axis": null},
            "text": {"field": "sub"}
          }
        },
        {
          "data": {"name": "etag"},
          "mark": {"type": "text", "align": "center", "baseline": "alphabetic", "font": "Liberation Serif", "fontSize": 25, "color": "black"},
          "encoding": {
            "x": {"field": "x", "type": "quantitative", "scale": {"domain": [0.95, 2.2], "nice": false, "zero": false}, "axis": null},
            "y": {"field": "y", "type": "quantitative", "scale": {"domain": [-9, 14], "nice": false, "zero": false}, "axis": null},
            "text": {"field": "t"}
          }
        }
      ]
    },
    {
      "width": 313.5,
      "height": 412,
      "resolve": {"axis": {"x": "independent", "y": "independent"}},
      "layer": [
        {
          "data": {"name": "split"},
          "mark": {"type": "rule", "color": "black", "strokeWidth": 1},
          "encoding": {
            "x": {"field": "x", "type": "quantitative", "scale": {"domain": [0.95, 2.2], "nice": false, "zero": false},
              "axis": {"orient": "bottom", "values": [1, 1.1, 1.2, 1.3, 1.4, 1.5, 1.6, 1.7, 1.8, 1.9, 2, 2.1], "tickSize": -12, "labels": false, "title": null}}
          }
        },
        {
          "data": {"name": "cuts"},
          "mark": {"type": "rule", "color": "black"},
          "encoding": {
            "x": {"field": "x", "type": "quantitative", "scale": {"domain": [0.95, 2.2], "nice": false, "zero": false},
              "axis": {"orient": "top", "values": [1, 1.1, 1.2, 1.3, 1.4, 1.5, 1.6, 1.7, 1.8, 1.9, 2, 2.1], "tickSize": -12, "labels": false, "title": null}},
            "x2": {"field": "x2"},
            "y": {"field": "y", "type": "quantitative", "scale": {"domain": [-9, 14], "nice": false, "zero": false},
              "axis": {"orient": "left", "values": [-8, -7, -6, -5, -4, -3, -2, -1, 0, 1, 2, 3, 4, 5, 6, 7, 8, 9, 10, 11, 12, 13], "tickSize": -12, "labels": false, "title": null}},
            "strokeWidth": {"field": "side", "type": "nominal", "scale": {"domain": ["blue", "red"], "range": [1.2, 2]}, "legend": null}
          }
        },
        {
          "data": {"name": "pts"},
          "mark": {"type": "errorbar", "ticks": {"size": 7}, "color": "#333", "thickness": 1},
          "encoding": {
            "x": {"field": "x", "type": "quantitative", "scale": {"domain": [0.95, 2.2], "nice": false, "zero": false},
              "axis": {"orient": "bottom", "values": [1, 1.5, 2], "tickSize": -24, "labels": false, "title": null}},
            "xError": {"field": "xe"},
            "y": {"field": "y", "type": "quantitative", "scale": {"domain": [-9, 14], "nice": false, "zero": false},
              "axis": {"orient": "right", "values": [-8, -7, -6, -5, -4, -3, -2, -1, 0, 1, 2, 3, 4, 5, 6, 7, 8, 9, 10, 11, 12, 13], "tickSize": -12, "labels": false, "title": null}}
          }
        },
        {
          "data": {"name": "pts"},
          "mark": {"type": "errorbar", "ticks": {"size": 7}, "color": "#333", "thickness": 1},
          "encoding": {
            "y": {"field": "y", "type": "quantitative", "scale": {"domain": [-9, 14], "nice": false, "zero": false},
              "axis": {"orient": "left", "values": [-5, 0, 5, 10], "tickSize": -24, "labels": false, "title": null}},
            "yError": {"field": "ye"},
            "x": {"field": "x", "type": "quantitative", "scale": {"domain": [0.95, 2.2], "nice": false, "zero": false},
              "axis": {"orient": "top", "values": [1, 1.5, 2], "tickSize": -24, "labels": false, "title": null}}
          }
        },
        {
          "data": {"name": "pts"},
          "mark": {"type": "point", "shape": "circle", "filled": false, "size": 50, "color": "black", "strokeWidth": 1, "opacity": 1},
          "encoding": {
            "x": {"field": "x", "type": "quantitative", "scale": {"domain": [0.95, 2.2], "nice": false, "zero": false},
              "axis": {"orient": "bottom", "values": [1, 1.5, 2], "ticks": false, "tickSize": 0, "labelPadding": 16, "format": "~g", "title": null}},
            "y": {"field": "y", "type": "quantitative", "scale": {"domain": [-9, 14], "nice": false, "zero": false},
              "axis": {"orient": "right", "values": [-5, 0, 5, 10], "tickSize": -24, "labels": false, "title": null}}
          }
        },
        {
          "data": {"name": "curves"},
          "transform": [{"filter": "datum.p == 3"}],
          "mark": {"type": "line", "color": "black", "strokeWidth": 2},
          "encoding": {
            "x": {"field": "x", "type": "quantitative", "scale": {"domain": [0.95, 2.2], "nice": false, "zero": false}, "axis": null},
            "y": {"field": "y", "type": "quantitative", "scale": {"domain": [-9, 14], "nice": false, "zero": false}, "axis": null},
            "detail": {"field": "s", "type": "nominal"},
            "strokeDash": {"field": "st", "type": "nominal", "scale": {"domain": ["solid", "long", "dash", "dash2", "dot"], "range": [[1, 0], [40, 6], [12, 10], [16, 10], [2, 6]]}, "legend": null}
          }
        },
        {
          "data": {"name": "hds"},
          "mark": {"type": "text", "align": "right", "baseline": "alphabetic", "font": "Liberation Serif", "fontSize": 23, "color": "black"},
          "encoding": {
            "x": {"field": "x", "type": "quantitative", "scale": {"domain": [0.95, 2.2], "nice": false, "zero": false}, "axis": null},
            "y": {"field": "y", "type": "quantitative", "scale": {"domain": [-9, 14], "nice": false, "zero": false}, "axis": null},
            "text": {"field": "t"}
          }
        },
        {
          "data": {"name": "hds"},
          "mark": {"type": "text", "align": "left", "baseline": "alphabetic", "font": "DejaVu Sans", "fontWeight": "bold", "fontSize": 14, "color": "black"},
          "encoding": {
            "x": {"field": "xs", "type": "quantitative", "scale": {"domain": [0.95, 2.2], "nice": false, "zero": false}, "axis": null},
            "y": {"field": "ys", "type": "quantitative", "scale": {"domain": [-9, 14], "nice": false, "zero": false}, "axis": null},
            "text": {"field": "sub"}
          }
        },
        {
          "data": {"name": "etag"},
          "mark": {"type": "text", "align": "center", "baseline": "alphabetic", "font": "Liberation Serif", "fontSize": 25, "color": "black"},
          "encoding": {
            "x": {"field": "x", "type": "quantitative", "scale": {"domain": [0.95, 2.2], "nice": false, "zero": false}, "axis": null},
            "y": {"field": "y", "type": "quantitative", "scale": {"domain": [-9, 14], "nice": false, "zero": false}, "axis": null},
            "text": {"field": "t"}
          }
        }
      ]
    }
  ],
  "config": {
    "view": {"stroke": "black", "strokeWidth": 1},
    "axis": {
      "domain": false,
      "grid": false,
      "tickColor": "black",
      "tickWidth": 1,
      "labelColor": "black",
      "titleColor": "black",
      "labelFont": "Liberation Serif",
      "titleFont": "Liberation Serif",
      "labelFontSize": 34,
      "titleFontSize": 34,
      "titleFontWeight": "normal"
    }
  }
}
